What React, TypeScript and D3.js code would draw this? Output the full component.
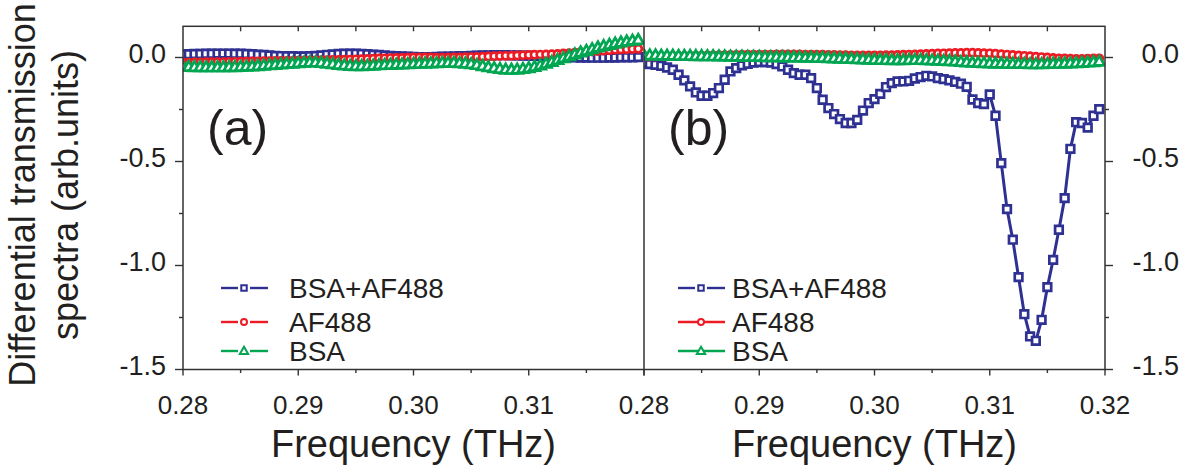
import React from 'react';
import * as d3 from 'd3';

const W = 1193;
const H = 475;

// Frequency grid (THz), sampled every 0.0005 THz
const freq: number[] = d3.range(80).map((i) => +(0.28 + i * 0.0005).toFixed(4));

const xTickValues = [0.28, 0.29, 0.3, 0.31, 0.32];
const yTickValues = [0, -0.5, -1.0, -1.5];
const seriesNames = ['BSA+AF488', 'AF488', 'BSA'];
const seriesColors = ['#2e3192', '#ed1c24', '#00a651'];
const panelLabels = ['(a)', '(b)'];
const xTitle = 'Frequency (THz)';
const yTitleLines = ['Differential transmission', 'spectra (arb.units)'];

// Panel (a)
const aBSAAF488 = [
  0.015, 0.016, 0.017, 0.017, 0.018, 0.018, 0.019, 0.019, 0.019, 0.018,
  0.018, 0.017, 0.016, 0.014, 0.012, 0.01, 0.008, 0.007, 0.006, 0.006,
  0.005, 0.005, 0.006, 0.008, 0.01, 0.013, 0.015, 0.017, 0.018, 0.018,
  0.018, 0.017, 0.016, 0.014, 0.012, 0.01, 0.008, 0.006, 0.005, 0.004,
  0.003, 0.002, 0.002, 0.002, 0.003, 0.004, 0.004, 0.005, 0.006, 0.007,
  0.008, 0.009, 0.01, 0.01, 0.011, 0.011, 0.011, 0.01, 0.01, 0.009,
  0.009, 0.008, 0.007, 0.006, 0.005, 0.004, 0.003, 0.002, 0.001, 0.0,
  0.0, -0.001, -0.001, -0.001, 0.0, 0.0, 0.001, 0.001, 0.001, 0.002,
];
const aAF488 = [
  -0.025, -0.025, -0.024, -0.024, -0.023, -0.023, -0.022, -0.022, -0.021, -0.021,
  -0.02, -0.02, -0.019, -0.019, -0.018, -0.018, -0.017, -0.017, -0.016, -0.016,
  -0.015, -0.015, -0.014, -0.014, -0.013, -0.013, -0.012, -0.012, -0.011, -0.01,
  -0.009, -0.008, -0.007, -0.006, -0.005, -0.004, -0.003, -0.002, -0.002, -0.001,
  0.0, 0.0, 0.0, 0.0, -0.001, -0.001, -0.001, 0.0, 0.0, 0.001,
  0.002, 0.003, 0.004, 0.005, 0.006, 0.007, 0.008, 0.009, 0.01, 0.011,
  0.012, 0.013, 0.014, 0.015, 0.016, 0.017, 0.019, 0.021, 0.023, 0.025,
  0.027, 0.029, 0.031, 0.033, 0.035, 0.037, 0.038, 0.04, 0.041, 0.042,
];
const aBSA = [
  -0.043, -0.043, -0.044, -0.044, -0.045, -0.045, -0.045, -0.045, -0.044, -0.044,
  -0.043, -0.042, -0.041, -0.039, -0.037, -0.035, -0.033, -0.031, -0.029, -0.027,
  -0.025, -0.023, -0.022, -0.022, -0.024, -0.027, -0.03, -0.033, -0.036, -0.038,
  -0.039, -0.039, -0.038, -0.037, -0.035, -0.034, -0.033, -0.032, -0.031, -0.03,
  -0.029, -0.028, -0.027, -0.026, -0.025, -0.024, -0.024, -0.024, -0.025, -0.027,
  -0.03, -0.034, -0.039, -0.044, -0.049, -0.053, -0.056, -0.057, -0.056, -0.053,
  -0.049, -0.043, -0.036, -0.028, -0.019, -0.01, -0.001, 0.008, 0.017, 0.026,
  0.034, 0.042, 0.05, 0.057, 0.063, 0.069, 0.074, 0.079, 0.083, 0.086,
];

// Panel (b)
const bBSAAF488 = [
  -0.027, -0.032, -0.035, -0.04, -0.048, -0.059, -0.083, -0.11, -0.139, -0.168,
  -0.184, -0.184, -0.171, -0.147, -0.107, -0.067, -0.051, -0.038, -0.03, -0.024,
  -0.022, -0.022, -0.024, -0.032, -0.043, -0.059, -0.075, -0.083, -0.083, -0.099,
  -0.147, -0.203, -0.243, -0.272, -0.296, -0.315, -0.315, -0.3, -0.255, -0.219,
  -0.2, -0.175, -0.142, -0.123, -0.115, -0.115, -0.112, -0.101, -0.094, -0.088,
  -0.091, -0.099, -0.104, -0.11, -0.117, -0.126, -0.141, -0.202, -0.219, -0.224,
  -0.178, -0.28, -0.508, -0.729, -0.876, -1.056, -1.234, -1.341, -1.362, -1.261,
  -1.104, -0.973, -0.828, -0.676, -0.439, -0.311, -0.315, -0.337, -0.28, -0.248,
];
const bAF488 = [
  0.004, 0.005, 0.005, 0.006, 0.006, 0.007, 0.007, 0.008, 0.008, 0.009,
  0.009, 0.01, 0.01, 0.011, 0.011, 0.012, 0.012, 0.013, 0.013, 0.013,
  0.014, 0.014, 0.014, 0.015, 0.015, 0.015, 0.015, 0.015, 0.014, 0.014,
  0.013, 0.013, 0.012, 0.012, 0.011, 0.011, 0.01, 0.01, 0.01, 0.01,
  0.01, 0.01, 0.011, 0.011, 0.012, 0.013, 0.014, 0.015, 0.016, 0.017,
  0.018, 0.019, 0.02, 0.021, 0.022, 0.022, 0.023, 0.023, 0.022, 0.021,
  0.02, 0.018, 0.016, 0.014, 0.012, 0.01, 0.008, 0.006, 0.004, 0.002,
  0.0, -0.002, -0.004, -0.005, -0.006, -0.007, -0.007, -0.006, -0.005, -0.004,
];
const bBSA = [
  0.012, 0.012, 0.012, 0.011, 0.011, 0.011, 0.01, 0.01, 0.01, 0.009,
  0.009, 0.008, 0.008, 0.007, 0.007, 0.006, 0.006, 0.006, 0.005, 0.005,
  0.005, 0.004, 0.004, 0.004, 0.003, 0.003, 0.002, 0.002, 0.001, 0.001,
  0.0, 0.0, -0.001, -0.002, -0.003, -0.004, -0.005, -0.006, -0.007, -0.008,
  -0.009, -0.01, -0.01, -0.011, -0.011, -0.011, -0.01, -0.01, -0.01, -0.011,
  -0.012, -0.013, -0.014, -0.015, -0.017, -0.019, -0.021, -0.023, -0.024, -0.025,
  -0.026, -0.027, -0.027, -0.028, -0.028, -0.029, -0.029, -0.03, -0.03, -0.03,
  -0.029, -0.028, -0.028, -0.027, -0.026, -0.025, -0.024, -0.022, -0.02, -0.018,
];

const panelA = [aBSAAF488, aAF488, aBSA];
const panelB = [bBSAAF488, bAF488, bBSA];

const FONT = "'Liberation Sans', Arial, Helvetica, sans-serif";
const INK = '#231f20';
const AXIS = '#333333';

const xLeft = 183;
const xMid = 644;
const xRight = 1105;
const yTop = 26.3;
const yBottom = 369.5;

const yScale = d3.scaleLinear().domain([-1.5, 0.15]).range([yBottom, yTop]);
const xScaleA = d3.scaleLinear().domain([0.28, 0.32]).range([xLeft, xMid]);
const xScaleB = d3.scaleLinear().domain([0.28, 0.32]).range([xMid, xRight]);

const squarePath = d3.symbol(d3.symbolSquare, 58)() as string;
const trianglePath = d3.symbol(d3.symbolTriangle, 52)() as string;
const squareSmall = d3.symbol(d3.symbolSquare, 30)() as string;
const triangleSmall = d3.symbol(d3.symbolTriangle, 30)() as string;

function Marker({ k, x, y, small }: { k: number; x: number; y: number; small?: boolean }) {
  const c = seriesColors[k];
  const sw = small ? 2 : 2.7;
  if (k === 0) {
    return <path d={small ? squareSmall : squarePath} transform={`translate(${x},${y})`} fill="#fff" stroke={c} strokeWidth={sw} />;
  }
  if (k === 1) {
    return <circle cx={x} cy={y} r={small ? 3 : 3.6} fill="#fff" stroke={c} strokeWidth={sw} />;
  }
  return <path d={small ? triangleSmall : trianglePath} transform={`translate(${x},${y + (small ? 0.5 : 1)})`} fill="#fff" stroke={c} strokeWidth={sw} />;
}

function Panel({ data, xs }: { data: number[][]; xs: d3.ScaleLinear<number, number> }) {
  const line = d3
    .line<number>()
    .x((_, i) => xs(freq[i]))
    .y((d) => yScale(d));
  return (
    <g>
      {data.map((vals, k) => (
        <g key={k}>
          <path d={line(vals) as string} fill="none" stroke={seriesColors[k]} strokeWidth={3} strokeLinejoin="round" />
          {vals.map((v, i) => (
            <Marker key={i} k={k} x={xs(freq[i])} y={yScale(v)} />
          ))}
        </g>
      ))}
    </g>
  );
}

function Legend({ x0, rowYs, gapAll }: { x0: number; rowYs: number[]; gapAll: boolean }) {
  const lineLen = 47;
  const mx = x0 + 23;
  return (
    <g>
      {seriesNames.map((name, k) => {
        const y = rowYs[k];
        const gapped = gapAll || k === 0;
        return (
          <g key={name}>
            {gapped ? (
              <>
                <line x1={x0} x2={mx - 6} y1={y} y2={y} stroke={seriesColors[k]} strokeWidth={2.4} />
                <line x1={mx + 6} x2={x0 + lineLen} y1={y} y2={y} stroke={seriesColors[k]} strokeWidth={2.4} />
              </>
            ) : (
              <line x1={x0} x2={x0 + lineLen} y1={y} y2={y} stroke={seriesColors[k]} strokeWidth={2.4} />
            )}
            <Marker k={k} x={mx} y={y} small />
            <text x={x0 + (gapAll ? 68 : 54)} y={y + 10} fontSize={28} fontFamily={FONT} fill={INK}>
              {name}
            </text>
          </g>
        );
      })}
    </g>
  );
}

function XAxis({ xs, labels }: { xs: d3.ScaleLinear<number, number>; labels: number[] }) {
  const all = d3.range(9).map((i) => +(0.28 + i * 0.005).toFixed(3));
  return (
    <g>
      {all.map((t, i) => {
        const x = xs(t);
        const major = i % 2 === 0;
        return (
          <g key={t}>
            <line x1={x} x2={x} y1={yBottom} y2={yBottom + (major ? 6 : 3.5)} stroke={AXIS} strokeWidth={1.4} />
            {i > 0 && i < 8 && <line x1={x} x2={x} y1={yTop} y2={yTop + 5} stroke={AXIS} strokeWidth={1.4} />}
          </g>
        );
      })}
      {labels.map((t) => (
        <text key={t} x={xs(t)} y={414} textAnchor="middle" fontSize={26} fontFamily={FONT} fill={INK}>
          {t.toFixed(2)}
        </text>
      ))}
    </g>
  );
}

function YAxis({ x, dir, labelX }: { x: number; dir: number; labelX: number }) {
  const all = d3.range(7).map((i) => -i * 0.25);
  return (
    <g>
      {all.map((t, i) => {
        const y = yScale(t);
        const major = i % 2 === 0;
        return <line key={i} x1={x} x2={x + dir * (major ? 8 : 4)} y1={y} y2={y} stroke={AXIS} strokeWidth={1.4} />;
      })}
      {yTickValues.map((t) => (
        <text key={t} x={labelX} y={yScale(t) + 5} textAnchor="end" fontSize={27} fontFamily={FONT} fill={INK}>
          {t.toFixed(1)}
        </text>
      ))}
    </g>
  );
}

export default function App() {
  return (
    <svg width={W} height={H} viewBox={`0 0 ${W} ${H}`} style={{ position: 'absolute', left: 0, top: 0, background: '#fff' }}>
      <rect x={0} y={0} width={W} height={H} fill="#fff" />
      <defs>
        <clipPath id="clipA">
          <rect x={xLeft} y={yTop - 10} width={xMid - xLeft} height={yBottom - yTop + 10} />
        </clipPath>
        <clipPath id="clipB">
          <rect x={xMid} y={yTop - 10} width={xRight - xMid} height={yBottom - yTop + 10} />
        </clipPath>
      </defs>

      <g clipPath="url(#clipA)">
        <Panel data={panelA} xs={xScaleA} />
      </g>
      <g clipPath="url(#clipB)">
        <Panel data={panelB} xs={xScaleB} />
      </g>

      {/* frame */}
      <rect x={xLeft} y={yTop} width={xRight - xLeft} height={yBottom - yTop} fill="none" stroke={AXIS} strokeWidth={1.5} />
      <line x1={xMid} x2={xMid} y1={yTop} y2={yBottom} stroke={AXIS} strokeWidth={1.5} />

      <XAxis xs={xScaleA} labels={[0.28, 0.29, 0.3, 0.31]} />
      <XAxis xs={xScaleB} labels={xTickValues} />
      <YAxis x={xLeft} dir={-1} labelX={166} />
      <YAxis x={xRight} dir={1} labelX={1179} />

      <text x={207} y={145} fontSize={50} fontFamily={FONT} fill={INK}>{panelLabels[0]}</text>
      <text x={668} y={145} fontSize={50} fontFamily={FONT} fill={INK}>{panelLabels[1]}</text>

      <Legend x0={221} rowYs={[288, 322, 351]} gapAll={true} />
      <Legend x0={678} rowYs={[288, 322, 351]} gapAll={false} />

      <text x={(xLeft + xMid) / 2} y={457} textAnchor="middle" fontSize={38} fontFamily={FONT} fill={INK}>{xTitle}</text>
      <text x={(xMid + xRight) / 2} y={457} textAnchor="middle" fontSize={38} fontFamily={FONT} fill={INK}>{xTitle}</text>

      <text transform="translate(35,195) rotate(-90)" textAnchor="middle" fontSize={36} fontFamily={FONT} fill={INK}>{yTitleLines[0]}</text>
      <text transform="translate(78,195) rotate(-90)" textAnchor="middle" fontSize={36} fontFamily={FONT} fill={INK}>{yTitleLines[1]}</text>
    </svg>
  );
}
